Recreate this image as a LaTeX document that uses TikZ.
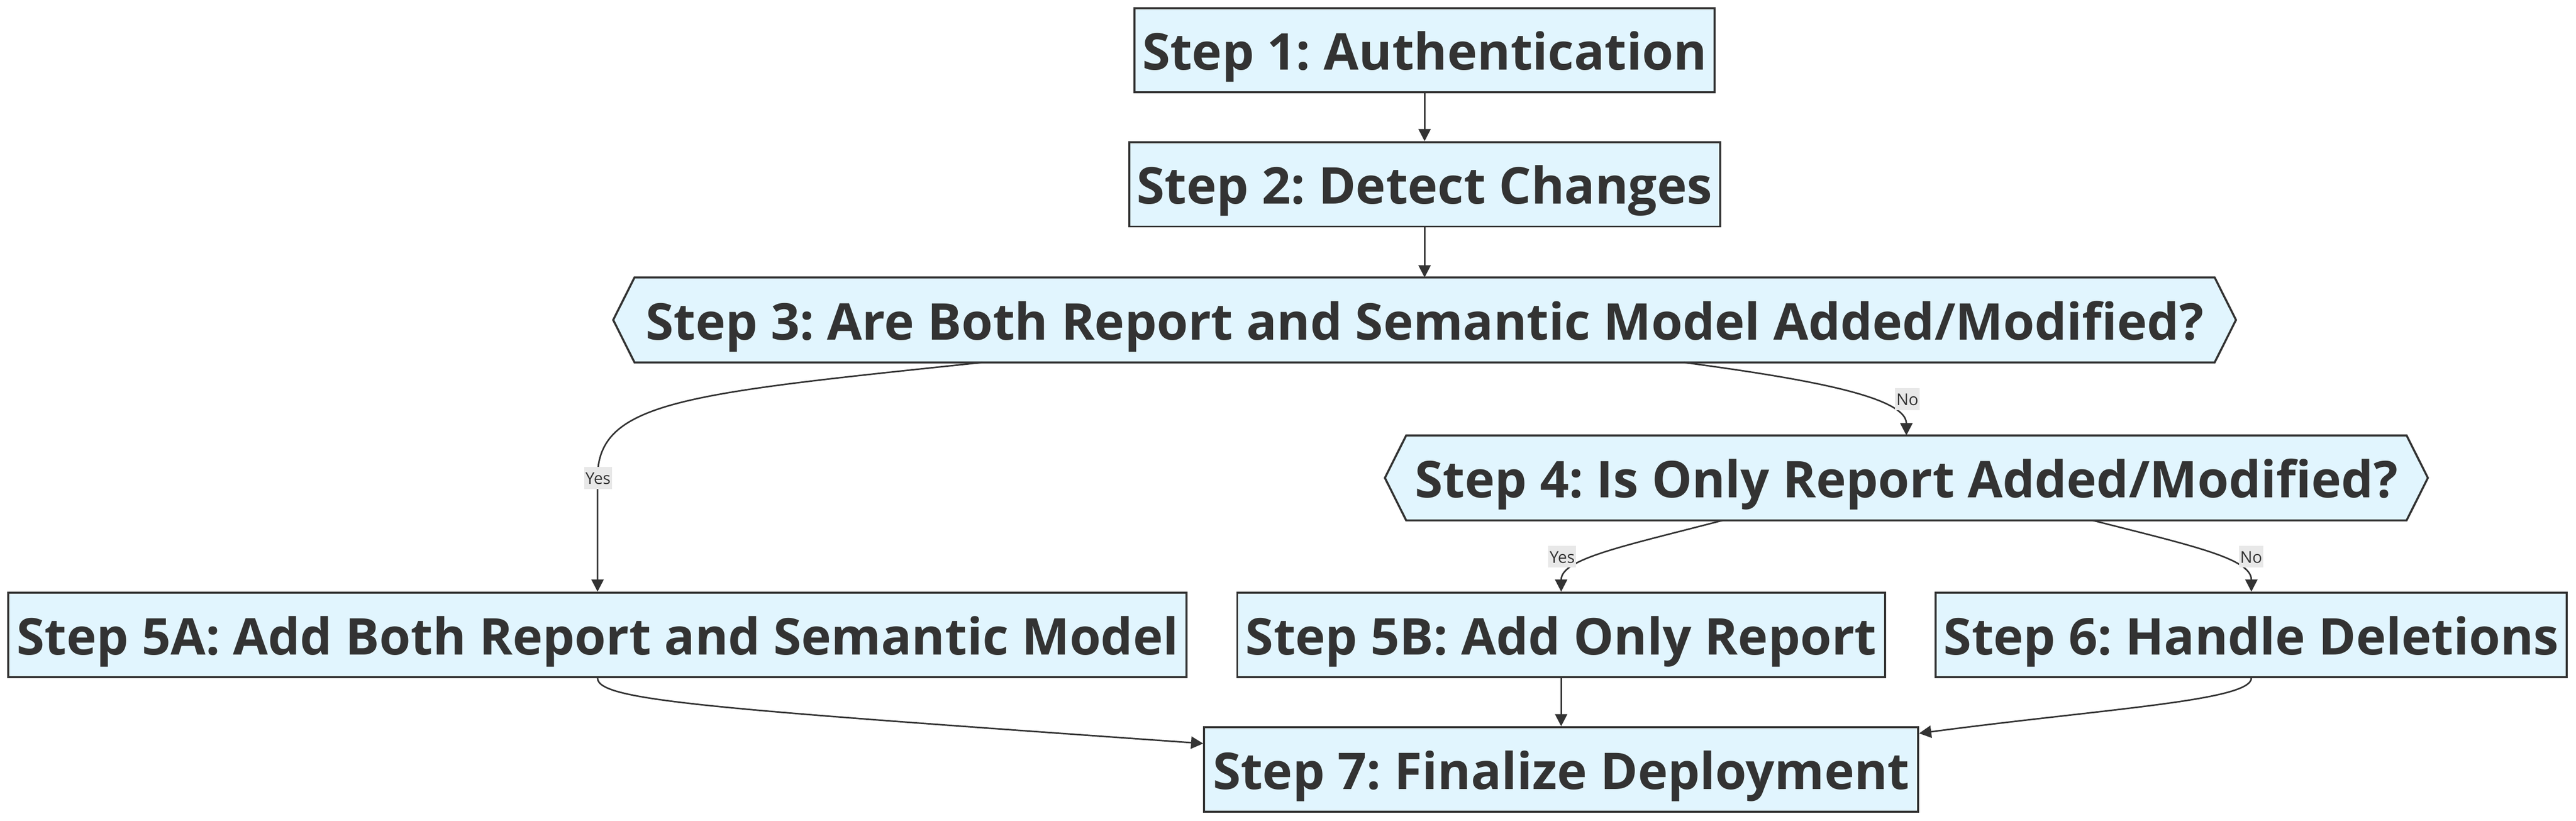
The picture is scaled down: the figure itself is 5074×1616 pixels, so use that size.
\documentclass[tikz,border=0pt]{standalone}
\usepackage{fontspec}
\setmainfont{Open Sans}
\usepackage{tikz}
\usetikzlibrary{arrows.meta,calc,backgrounds}
\definecolor{stepfill}{HTML}{E1F5FE}
\definecolor{stepline}{HTML}{333333}
\definecolor{lblfill}{HTML}{E8E8E8}
\frenchspacing

\begin{document}
\begin{tikzpicture}[x=0.1mm, y=-0.1mm,
    stepbox/.style={draw=stepline, fill=stepfill, line width=0.4mm, text=stepline, font=\fontsize{28.4}{34}\selectfont\bfseries, text height=30.4pt, text depth=8.3pt, minimum height=16.6mm, inner sep=0pt},
    hexbox/.style={text=stepline, font=\fontsize{28.4}{34}\selectfont\bfseries, text height=30.4pt, text depth=8.3pt, minimum height=16.6mm, inner sep=0pt},
    hexline/.style={draw=stepline, fill=stepfill, line width=0.4mm, line join=miter},
    lbl/.style={fill=lblfill, text=stepline, font=\fontsize{9.1}{11}\selectfont, text height=9.7pt, text depth=2.7pt, inner xsep=0.25mm, inner ysep=0pt},
    flow/.style={draw=stepline, line width=0.3mm, -{Triangle[length=2.4mm,width=2.4mm]}}]
            \useasboundingbox (0,0) rectangle (5074,1616);

            \node[stepbox, minimum width=114.3mm] (S1) at (2806, 99) {Step 1: Authentication};
            \node[stepbox, minimum width=116.4mm] (S2) at (2806, 363) {Step 2: Detect Changes};
            \node[hexbox, minimum width=311.1mm] (S3) at (2806, 630) {Step 3: Are Both Report and Semantic Model Added/Modified?};
            \node[hexbox, minimum width=196.9mm] (S4) at (3755, 941) {Step 4: Is Only Report Added/Modified?};
            \node[stepbox, minimum width=232.1mm] (S5A) at (1177, 1250) {Step 5A: Add Both Report and Semantic Model};
            \node[stepbox, minimum width=127.6mm] (S5B) at (3075, 1250) {Step 5B: Add Only Report};
            \node[stepbox, minimum width=124.3mm] (S6) at (4434.5, 1250) {Step 6: Handle Deletions};
            \node[stepbox, minimum width=140.6mm] (S7) at (3075, 1515) {Step 7: Finalize Deployment};

            % hexagon outlines for the two decisions
            \begin{scope}[on background layer]
                \draw[hexline] ($(S3.west)+(-42,0)$) -- (S3.north west) -- (S3.north east) -- ($(S3.east)+(42,0)$) -- (S3.south east) -- (S3.south west) -- cycle;
                \draw[hexline] ($(S4.west)+(-42,0)$) -- (S4.north west) -- (S4.north east) -- ($(S4.east)+(42,0)$) -- (S4.south east) -- (S4.south west) -- cycle;
            \end{scope}

            \draw[flow] (S1) -- (S2);
            \draw[flow] (S2) -- (S3);
            \draw[flow] ($(S3.south)+(-871,0)$) .. controls (1350, 775) and (1177, 790) .. (1177, 940) -- (S5A.north);
            \draw[flow] ($(S3.south)+(511,0)$) .. controls (3550, 745) and (3755, 780) .. (S4.north);
            \draw[flow] ($(S4.south)+(-362,0)$) .. controls (3200, 1075) and (3075, 1100) .. (S5B.north);
            \draw[flow] ($(S4.south)+(367,0)$) .. controls (4320, 1075) and (4434.5, 1100) .. (S6.north);
            \draw[flow] (S5A.south) .. controls (1177, 1380) and (1400, 1395) .. ($(S7.north west)+(0,34)$);
            \draw[flow] (S5B) -- (S7);
            \draw[flow] (S6.south) .. controls (4434.5, 1380) and (4150, 1395) .. ($(S7.north east)+(0,14)$);

            \node[lbl] (L1) at (1178, 941) {Yes};
            \node[lbl] (L2) at (3757, 786) {No};
            \node[lbl] (L3) at (3077, 1096) {Yes};
            \node[lbl] (L4) at (4434, 1096) {No};
        \end{tikzpicture}
\end{document}
